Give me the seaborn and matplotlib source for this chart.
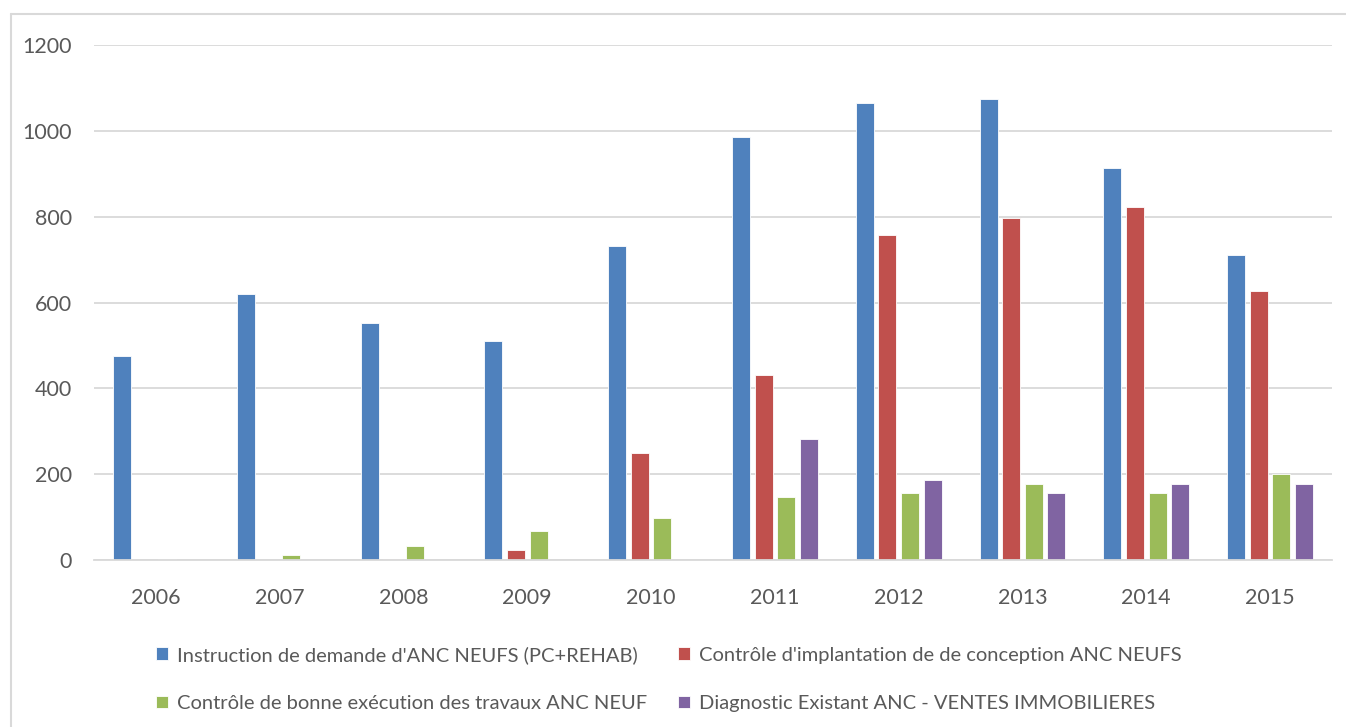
import pandas as pd
import seaborn as sns
import matplotlib.pyplot as plt
from matplotlib.lines import Line2D

years = ['2006', '2007', '2008', '2009', '2010', '2011', '2012', '2013', '2014', '2015']
series_names = [
    "Instruction de demande d'ANC NEUFS (PC+REHAB)",
    "Contrôle d'implantation de de conception ANC NEUFS",
    "Contrôle de bonne exécution des travaux ANC NEUF",
    "Diagnostic Existant ANC - VENTES IMMOBILIERES",
]
instruction = [475, 620, 552, 511, 731, 986, 1066, 1074, 913, 711]
implantation = [0, 0, 3, 23, 249, 430, 757, 798, 822, 627]
execution = [2, 12, 33, 68, 97, 146, 157, 177, 157, 201]
diagnostic = [0, 0, 0, 0, 0, 281, 186, 157, 177, 177]
colors = ['#4f81bd', '#c0504d', '#9bbb59', '#8064a2']

# long table for seaborn
rows = []
for name, vals in zip(series_names, [instruction, implantation, execution, diagnostic]):
    for y, v in zip(years, vals):
        rows.append({'year': y, 'serie': name, 'value': v})
df = pd.DataFrame(rows)

sns.set_style('white')
plt.rcParams['font.family'] = ['Lato', 'DejaVu Sans']

fig = plt.figure(figsize=(13.46, 7.27), dpi=100)
ax = fig.add_axes([0.0698, 0.2297, 0.9198, 0.7084])

sns.barplot(data=df, x='year', y='value', hue='serie', palette=colors,
            width=0.73, gap=0.2, ax=ax, legend=True, saturation=1,
            edgecolor='white', linewidth=0.6)

ax.set_ylim(0, 1200)
ax.set_yticks(range(0, 1201, 200))
ax.grid(axis='y', color='#d9d9d9', linewidth=1.3)
ax.set_axisbelow(True)
for s in ['top', 'right', 'left']:
    ax.spines[s].set_visible(False)
ax.spines['bottom'].set_color('#d9d9d9')
ax.spines['bottom'].set_linewidth(1.3)
ax.tick_params(axis='both', length=0, labelsize=15.5, colors='#595959')
ax.tick_params(axis='y', pad=16)
ax.tick_params(axis='x', pad=20)
ax.set_xlabel('')
ax.set_ylabel('')

# legend below, filled row by row
handles, labels = ax.get_legend_handles_labels()
ax.get_legend().remove()
order = [0, 2, 1, 3]
fig.legend([handles[i] for i in order], [labels[i] for i in order],
           ncol=2, loc='center', bbox_to_anchor=(0.497, 0.066),
           frameon=False, fontsize=14.5, labelcolor='#595959',
           handlelength=0.6, handleheight=0.6, handletextpad=0.45,
           columnspacing=1.5, labelspacing=1.55)

# outer chart frame (left and top edges only visible)
fig.add_artist(Line2D([11 / 1346, 11 / 1346], [0, 1 - 14 / 727],
                      transform=fig.transFigure, color='#d9d9d9', linewidth=1.5))
fig.add_artist(Line2D([11 / 1346, 1], [1 - 14 / 727, 1 - 14 / 727],
                      transform=fig.transFigure, color='#d9d9d9', linewidth=1.5))

fig.savefig('out.png', dpi=100)
